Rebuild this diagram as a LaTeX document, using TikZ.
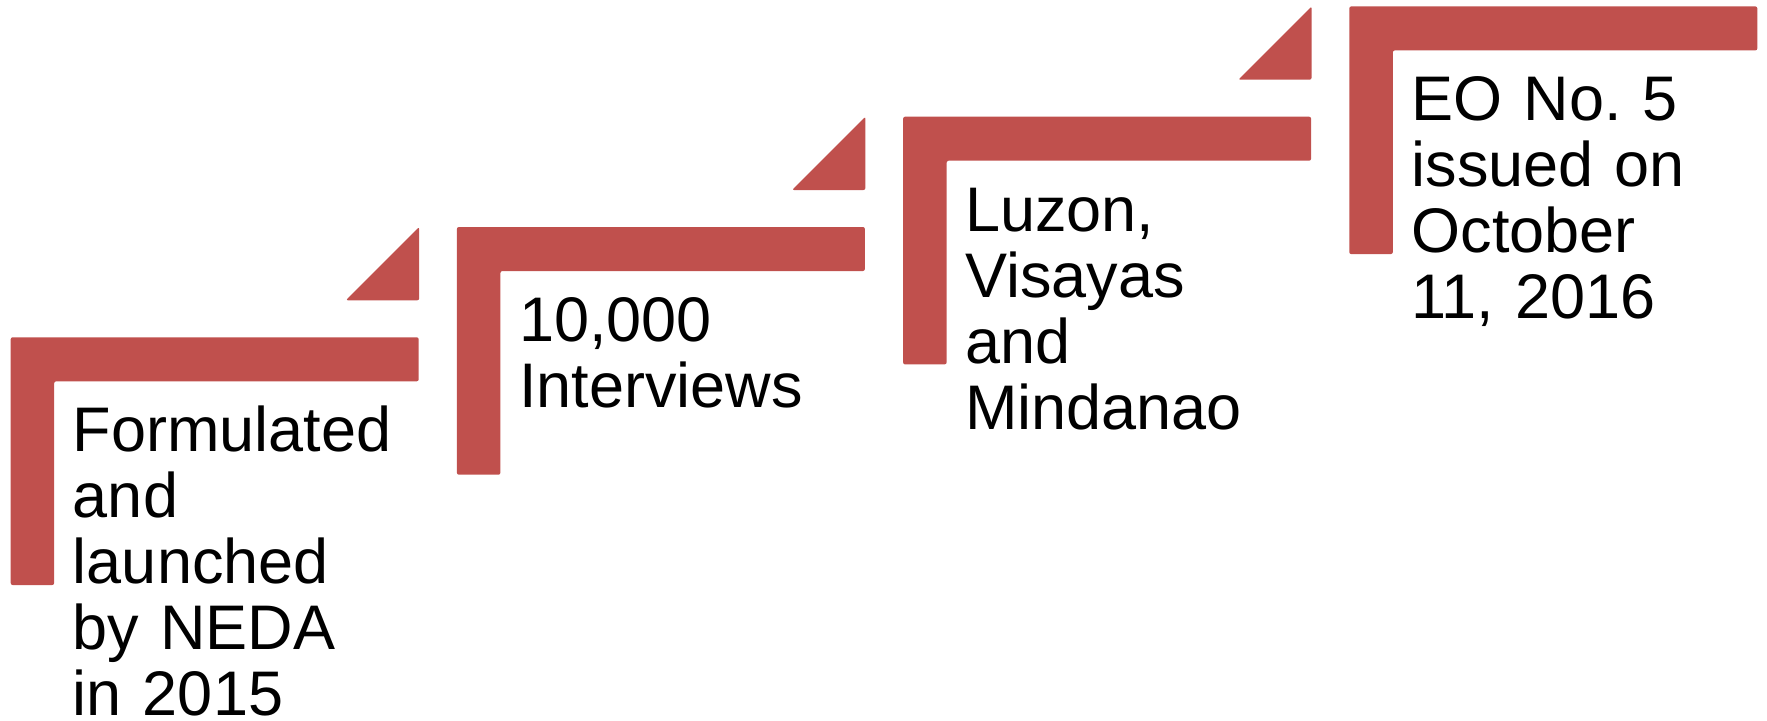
\documentclass[tikz,border=0pt]{standalone}
\usepackage{fontspec}
\setmainfont{Liberation Sans}
\definecolor{barred}{HTML}{C0504D}
\begin{document}
\frenchspacing
\begin{tikzpicture}[x=0.75pt,y=-0.75pt,
  bar/.style={fill=barred, rounded corners=1.5pt},
  flag/.style={fill=barred, rounded corners=1.5pt},
  milestone/.style={anchor=base west, inner sep=0pt, text width=330pt, align=left,
    font=\fontsize{47.25pt}{49.5pt}\selectfont\frenchspacing}]
\useasboundingbox (0,0) rectangle (1767,721);
% one L-shaped bracket per milestone, climbing to the right
\foreach \i/\txt in {0/{Formulated\\and\\launched\\by NEDA\\in 2015},
                     1/{10,000\\Interviews},
                     2/{Luzon,\\Visayas\\and\\Mindanao},
                     3/{EO No. 5\\issued on\\October\\11, 2016}} {
  \pgfmathsetmacro\L{10.7+446.2*\i}
  \pgfmathsetmacro\T{337.3-110.3*\i}
  \fill[bar] (\L,\T) -- ++(408,0) -- ++(0,44) -- ++(-364.5,0)
             -- ++(0,203.7) -- ++(-43.5,0) -- cycle;
  \node[milestone] (m\i) at (\L+62,\T+114.5) {\txt};
}
% small triangles leading up to the next bracket
\foreach \i in {0,1,2} {
  \pgfmathsetmacro\R{10.7+446.2*\i+408.5}
  \pgfmathsetmacro\U{337.3-110.3*(\i+1)}
  \fill[flag] (\R,\U) -- (\R,\U+73.3) -- (\R-73.3,\U+73.3) -- cycle;
}
\end{tikzpicture}
\end{document}
